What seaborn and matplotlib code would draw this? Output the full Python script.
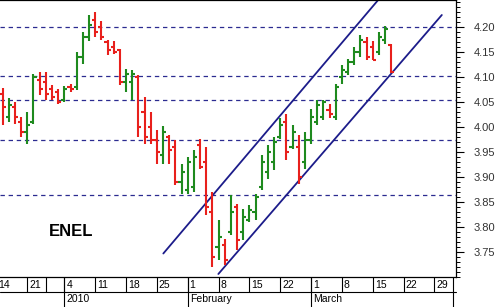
import numpy as np
import pandas as pd
import matplotlib
matplotlib.use("Agg")
import matplotlib.pyplot as plt
import matplotlib.transforms as mtransforms
import seaborn as sns

# ---------------- data ----------------
holidays = ["2009-12-24", "2009-12-25", "2009-12-31", "2010-01-01"]
first_day = "2009-12-14"
last_axis_day = "2010-04-01"

opens = [4.065, 4.020, 4.040, 4.010, 3.990, 4.010, 4.095, 4.090, 4.075, 4.070,
         4.055, 4.080, 4.080, 4.140, 4.180, 4.215, 4.200, 4.170, 4.160, 4.155,
         4.090, 4.090, 4.100, 4.030, 4.000, 3.975, 3.945, 3.980, 3.960, 3.890,
         3.875, 3.880, 3.965, 3.930, 3.830, 3.760, 3.765, 3.790, 3.840, 3.790,
         3.815, 3.830, 3.880, 3.910, 3.930, 3.980, 4.010, 3.960, 3.960, 3.930,
         3.975, 4.010, 4.020, 4.035, 4.020, 4.100, 4.110, 4.130, 4.150, 4.170,
         4.160, 4.150, 4.175, 4.165]
highs = [4.079, 4.057, 4.051, 4.021, 4.031, 4.107, 4.111, 4.111, 4.084, 4.077,
         4.081, 4.087, 4.151, 4.191, 4.224, 4.231, 4.211, 4.174, 4.171, 4.157,
         4.117, 4.114, 4.104, 4.061, 4.031, 3.994, 4.001, 3.984, 3.974, 3.927,
         3.941, 3.954, 3.977, 3.961, 3.871, 3.814, 3.777, 3.864, 3.847, 3.837,
         3.844, 3.867, 3.944, 3.964, 3.981, 4.017, 4.027, 4.004, 3.984, 3.991,
         4.037, 4.054, 4.054, 4.047, 4.087, 4.124, 4.137, 4.161, 4.184, 4.181,
         4.171, 4.191, 4.202, 4.167]
lows = [4.004, 4.011, 4.007, 3.981, 3.967, 4.007, 4.064, 4.054, 4.054, 4.047,
        4.051, 4.071, 4.074, 4.127, 4.171, 4.181, 4.174, 4.144, 4.147, 4.084,
        4.071, 4.054, 3.981, 3.967, 3.967, 3.927, 3.927, 3.927, 3.884, 3.867,
        3.867, 3.871, 3.917, 3.824, 3.721, 3.734, 3.724, 3.784, 3.755, 3.774,
        3.810, 3.814, 3.874, 3.897, 3.914, 3.977, 3.934, 3.957, 3.887, 3.917,
        3.967, 4.004, 4.015, 4.017, 4.014, 4.087, 4.104, 4.125, 4.141, 4.134,
        4.134, 4.144, 4.167, 4.109]
closes = [4.040, 4.045, 4.020, 3.990, 4.005, 4.100, 4.075, 4.065, 4.060, 4.050,
          4.075, 4.075, 4.140, 4.180, 4.205, 4.190, 4.180, 4.155, 4.150, 4.090,
          4.105, 4.105, 4.000, 3.980, 3.975, 3.950, 3.990, 3.955, 3.890, 3.910,
          3.930, 3.940, 3.920, 3.840, 3.740, 3.780, 3.735, 3.830, 3.775, 3.820,
          3.835, 3.860, 3.930, 3.950, 3.970, 4.005, 3.950, 3.990, 3.900, 3.975,
          4.020, 4.045, 4.050, 4.025, 4.080, 4.115, 4.130, 4.150, 4.175, 4.140,
          4.135, 4.180, 4.195, 4.110]

levels = [4.200, 4.103, 4.054, 3.974, 3.865]

channel_line = ["upper", "upper", "lower", "lower"]
channel_x = [27.05, 66.0, 35.97, 72.2]
channel_y = [3.747, 4.314, 3.706, 4.224]

week_ticks = ["2009-12-14", "2009-12-21", "2009-12-28", "2010-01-04", "2010-01-11",
              "2010-01-18", "2010-01-25", "2010-02-01", "2010-02-08", "2010-02-15",
              "2010-02-22", "2010-03-01", "2010-03-08", "2010-03-15", "2010-03-22",
              "2010-03-29"]
week_labels = ["14", "21", "", "4", "11", "18", "25", "1", "8", "15", "22",
               "1", "8", "15", "22", "29"]
month_ticks = ["2010-01-04", "2010-02-01", "2010-03-01", "2010-04-01"]
month_labels = ["2010", "February", "March", ""]

price_major = [3.75, 3.80, 3.85, 3.90, 3.95, 4.00, 4.05, 4.10, 4.15, 4.20]
title_text = "ENEL"

# ---------------- trading-day axis ----------------
days = pd.bdate_range(first_day, last_axis_day)
days = days[~days.isin(pd.to_datetime(holidays))]
pos = {d: i for i, d in enumerate(days)}
bar_x = np.arange(1, 1 + len(opens))

sns.set_style("white")
plt.rcParams['font.family'] = ['Liberation Sans', 'DejaVu Sans']

W, H = 500, 307
fig = plt.figure(figsize=(W / 100, H / 100), dpi=100)
ax_w, ax_h, ax_b = 456, 277, 30
ax = fig.add_axes([0, ax_b / H, ax_w / W, ax_h / H])

ax.set_xlim(0.57, 74.5)
ax.set_ylim(3.700, 4.254)

# horizontal levels
for lv in levels:
    ax.axhline(lv, color="#2b2b90", lw=0.9, ls=(0, (3.5, 3)), zorder=1)

# channel lines
df_ch = pd.DataFrame({"line": channel_line, "x": channel_x, "y": channel_y})
sns.lineplot(data=df_ch, x="x", y="y", units="line", estimator=None,
             color="#1c1c8a", lw=1.3, ax=ax, zorder=2)

# OHLC bars
o = np.array(opens); h = np.array(highs); l = np.array(lows); c = np.array(closes)
cols = np.where(c >= o, "#1e8a1e", "#e8201c")
ax.vlines(bar_x, l, h, colors=cols, lw=1.5, zorder=3)
ax.hlines(o, bar_x - 0.5, bar_x, colors=cols, lw=1.5, zorder=3)
ax.hlines(c, bar_x, bar_x + 0.5, colors=cols, lw=1.5, zorder=3)

ax.set_xlabel("")
ax.set_ylabel("")

# spines
for s in ["top", "right", "bottom"]:
    ax.spines[s].set_visible(True)
    ax.spines[s].set_color("black")
    ax.spines[s].set_linewidth(0.9)
ax.spines["left"].set_visible(False)

# right price axis
ax.yaxis.tick_right()
ax.set_yticks(price_major)
ax.set_yticklabels([f"{v:.2f}" for v in price_major])
minor = np.round(np.arange(3.70, 4.26, 0.01), 2)
ax.set_yticks(minor, minor=True)
ax.tick_params(axis="y", which="major", length=6, width=0.8, color="black",
               labelsize=8, labelcolor="#333333", pad=7, right=True, left=False)
ax.tick_params(axis="y", which="minor", length=3, width=0.7, color="black",
               right=True, left=False)
ax.set_xticks([])
ax.grid(False)

# date rows
xt = ax.get_xaxis_transform()
row = 15 / ax_h
wk = [pos[pd.Timestamp(d)] for d in week_ticks]
mo = [pos[pd.Timestamp(d)] for d in month_ticks]
ax.vlines(wk, -row, 0, transform=xt, clip_on=False, color="black", lw=0.8)
ax.vlines(mo, -2 * row, 0, transform=xt, clip_on=False, color="black", lw=0.8)
ax.plot([0, 1], [-row, -row], transform=ax.transAxes, clip_on=False,
        color="black", lw=0.8)
lt = mtransforms.offset_copy(xt, fig=fig, x=2, y=0, units="dots")
for p, t in zip(wk, week_labels):
    ax.text(p, -row / 2, t, transform=lt, ha="left", va="center",
            fontsize=7.5, color="black", clip_on=False)
for p, t in zip(mo, month_labels):
    ax.text(p, -1.5 * row, t, transform=lt, ha="left", va="center",
            fontsize=7.5, color="black", clip_on=False)

ax.text(49 / ax_w, (ax_h - 232) / ax_h, title_text, transform=ax.transAxes,
        ha="left", va="center", fontsize=12, fontweight="bold", color="black")

fig.savefig("out.png", dpi=100)
